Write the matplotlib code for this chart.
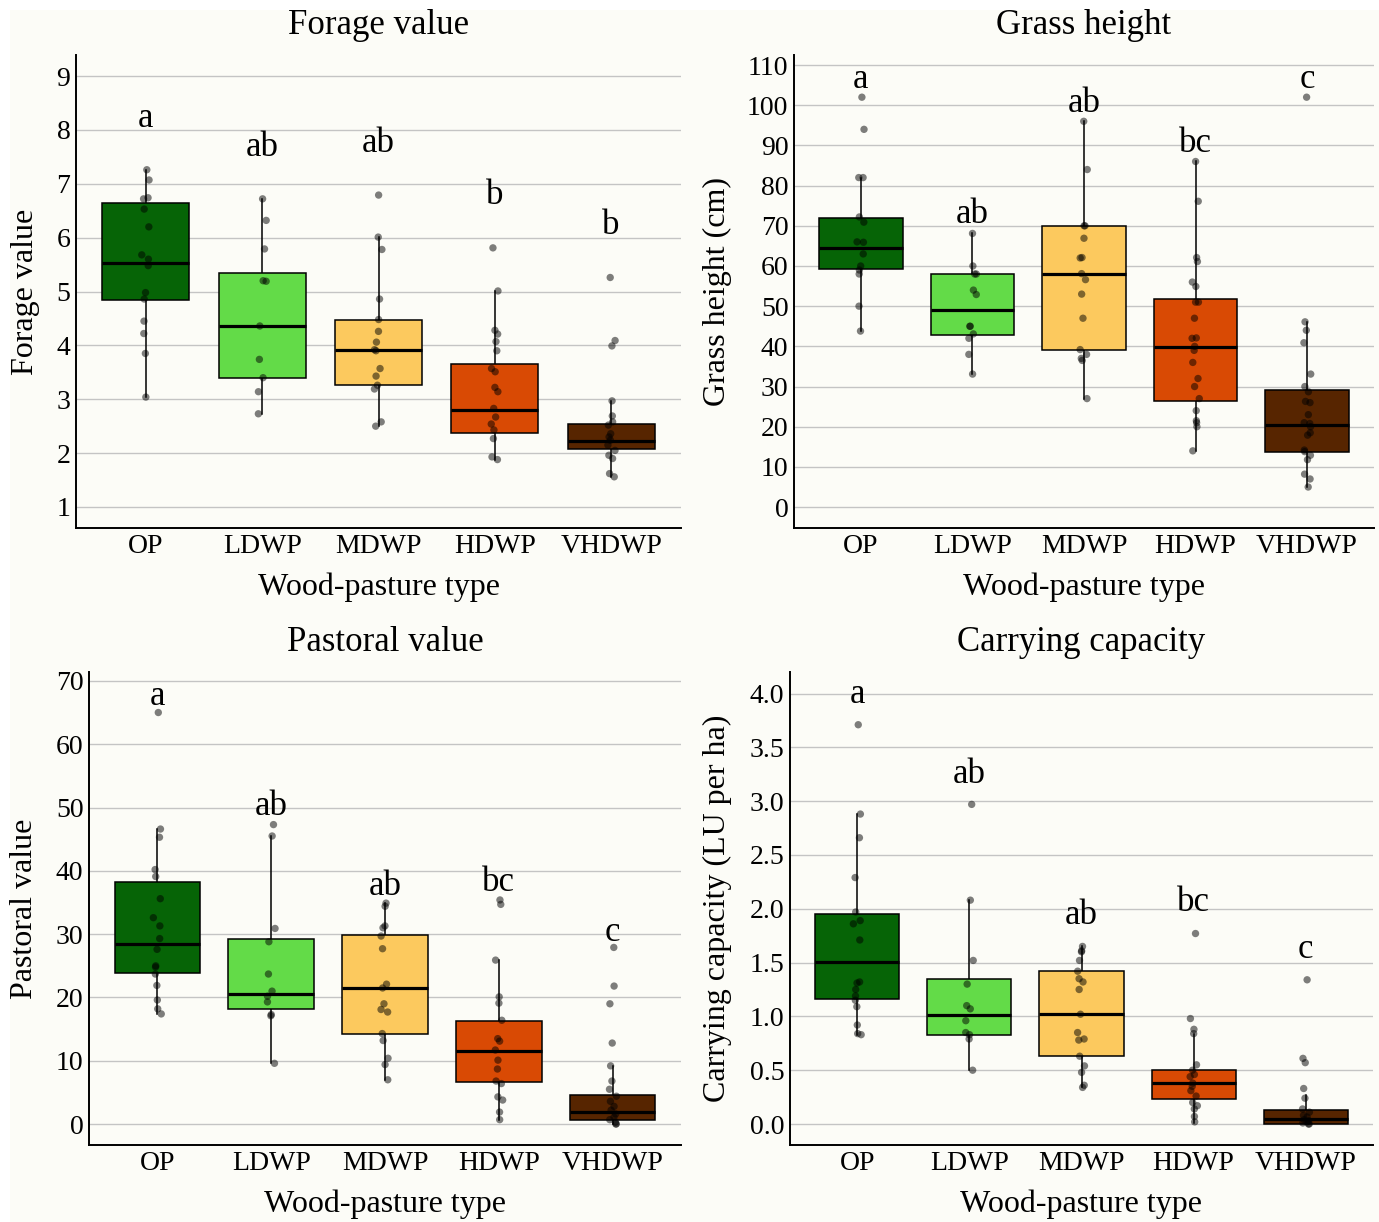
import numpy as np
import matplotlib
matplotlib.use("Agg")
import matplotlib.pyplot as plt
from matplotlib.patches import Rectangle

plt.rcParams["font.family"] = ["Liberation Serif", "DejaVu Serif"]

TYPES = ["OP", "LDWP", "MDWP", "HDWP", "VHDWP"]
COLORS = ["#066406", "#63DB48", "#FCC95E", "#D94A04", "#572500"]

# ---- Forage value ----
forage_pts = [
    [7.26, 7.07, 6.74, 6.72, 6.53, 6.20, 5.68, 5.60, 5.48, 4.98, 4.86, 4.45, 4.22, 3.85, 3.04],
    [6.72, 6.32, 5.79, 5.20, 5.19, 4.36, 3.74, 3.40, 3.14, 2.73],
    [6.79, 6.01, 5.78, 4.86, 4.48, 4.26, 4.06, 3.92, 3.90, 3.57, 3.43, 3.26, 3.19, 2.58, 2.50],
    [5.81, 5.01, 4.28, 4.21, 4.07, 3.90, 3.57, 3.51, 3.22, 3.14, 2.83, 2.67, 2.54, 2.43, 2.27,
     1.93, 1.88],
    [5.26, 4.09, 3.99, 2.97, 2.69, 2.58, 2.52, 2.36, 2.30, 2.24, 2.15, 2.05, 1.96, 1.90, 1.62,
     1.56],
]
forage_q1 = [4.85, 3.39, 3.27, 2.38, 2.07]
forage_med = [5.52, 4.36, 3.92, 2.80, 2.23]
forage_q3 = [6.64, 5.35, 4.48, 3.65, 2.54]
forage_wlo = [3.04, 2.73, 2.50, 1.88, 1.56]
forage_whi = [7.26, 6.72, 6.01, 5.01, 2.97]
forage_letters = ["a", "ab", "ab", "b", "b"]
forage_letter_y = [8.22, 7.68, 7.75, 6.79, 6.23]

# ---- Grass height ----
grass_pts = [
    [102.0, 94.0, 82.0, 82.0, 72.2, 70.9, 66.0, 65.9, 63.0, 60.0, 59.0, 58.0, 50.0, 43.8],
    [68.1, 60.0, 58.0, 58.0, 54.0, 52.9, 45.0, 45.0, 43.1, 42.0, 38.0, 33.1],
    [96.0, 84.0, 70.0, 70.0, 66.9, 62.1, 62.0, 58.1, 56.6, 53.0, 47.0, 39.2, 38.0, 37.0, 36.5,
     27.0],
    [86.0, 76.1, 62.1, 61.1, 56.0, 54.9, 51.0, 51.0, 47.0, 42.1, 42.0, 40.0, 39.0, 36.0, 32.0,
     30.0, 27.0, 24.0, 21.5, 21.0, 20.0, 14.0],
    [102.0, 46.1, 44.0, 40.9, 33.1, 30.0, 28.7, 26.3, 26.0, 23.0, 21.0, 20.8, 20.0, 18.5, 17.9,
     14.2, 13.8, 12.9, 11.8, 8.2, 7.0, 5.0],
]
grass_q1 = [59.2, 42.8, 39.0, 26.3, 13.8]
grass_med = [64.5, 49.0, 58.1, 39.9, 20.5]
grass_q3 = [72.0, 58.0, 70.0, 51.9, 29.1]
grass_wlo = [43.8, 33.1, 27.0, 14.0, 5.0]
grass_whi = [82.0, 68.1, 96.0, 86.0, 46.1]
grass_letters = ["a", "ab", "ab", "bc", "c"]
grass_letter_y = [106.5, 72.7, 100.5, 90.6, 106.5]

# ---- Pastoral value ----
pastoral_pts = [
    [65.0, 46.6, 45.3, 40.2, 39.1, 35.6, 32.6, 31.3, 29.3, 27.6, 25.0, 24.8, 23.7, 21.9, 19.6,
     18.2, 17.4],
    [47.3, 45.5, 30.9, 28.8, 23.7, 21.0, 20.2, 19.3, 17.3, 17.1, 9.6],
    [34.9, 34.4, 31.3, 31.0, 29.7, 27.7, 22.1, 21.5, 19.0, 18.1, 17.7, 14.3, 13.2, 10.4, 9.4,
     7.0],
    [35.4, 34.7, 25.9, 20.1, 19.1, 16.4, 13.5, 13.1, 11.7, 10.1, 8.7, 6.8, 6.4, 4.3, 3.8, 1.9,
     0.7],
    [27.9, 21.8, 19.0, 12.8, 9.2, 6.8, 5.5, 4.4, 3.6, 2.8, 2.2, 1.6, 1.1, 0.7, 0.3, 0.05, 0.0],
]
pastoral_q1 = [23.9, 18.1, 14.2, 6.7, 0.7]
pastoral_med = [28.4, 20.6, 21.5, 11.5, 1.9]
pastoral_q3 = [38.2, 29.3, 29.8, 16.3, 4.6]
pastoral_wlo = [17.4, 9.6, 7.0, 0.7, 0.0]
pastoral_whi = [46.6, 45.5, 34.9, 25.9, 9.2]
pastoral_letters = ["a", "ab", "ab", "bc", "c"]
pastoral_letter_y = [67.6, 50.1, 37.6, 38.2, 30.3]

# ---- Carrying capacity ----
carry_pts = [
    [3.71, 2.88, 2.66, 2.29, 1.97, 1.89, 1.86, 1.71, 1.32, 1.31, 1.25, 1.19, 1.15, 1.09, 0.92,
     0.84, 0.83],
    [2.97, 2.08, 1.52, 1.30, 1.10, 1.07, 0.96, 0.85, 0.83, 0.79, 0.50],
    [1.65, 1.61, 1.60, 1.52, 1.42, 1.35, 1.32, 1.25, 1.02, 0.85, 0.79, 0.78, 0.63, 0.54, 0.48,
     0.36, 0.34],
    [1.77, 0.98, 0.88, 0.84, 0.55, 0.50, 0.46, 0.44, 0.38, 0.35, 0.31, 0.26, 0.20, 0.17, 0.14,
     0.07, 0.02],
    [1.34, 0.61, 0.57, 0.33, 0.24, 0.14, 0.11, 0.08, 0.065, 0.04, 0.03, 0.02, 0.01, 0.0, 0.0],
]
carry_q1 = [1.165, 0.83, 0.63, 0.23, 0.0]
carry_med = [1.51, 1.015, 1.02, 0.38, 0.05]
carry_q3 = [1.95, 1.35, 1.42, 0.50, 0.13]
carry_wlo = [0.83, 0.50, 0.34, 0.01, 0.0]
carry_whi = [2.88, 2.08, 1.65, 0.84, 0.27]
carry_letters = ["a", "ab", "ab", "bc", "c"]
carry_letter_y = [3.99, 3.25, 1.94, 2.06, 1.62]

BG = "#FCFCF7"
W, H = 1379, 1222


def panel(fig, rect, title, ylabel, pts, q1, med, q3, wlo, whi, letters, letter_y,
          ylim, yticks, yfmt, ylab_x):
    ax = fig.add_axes(rect)
    ax.set_facecolor(BG)
    stats = [dict(q1=a, med=m, q3=b, whislo=lo, whishi=hi, fliers=[])
             for a, m, b, lo, hi in zip(q1, med, q3, wlo, whi)]
    bp = ax.bxp(stats, positions=range(5), widths=0.75, patch_artist=True,
                showcaps=False, showfliers=False,
                boxprops=dict(edgecolor="black", linewidth=1.1),
                whiskerprops=dict(color="black", linewidth=1.1),
                medianprops=dict(color="black", linewidth=2.3))
    for patch, c in zip(bp["boxes"], COLORS):
        patch.set_facecolor(c)
        patch.set_zorder(2)
    for w in bp["whiskers"]:
        w.set_zorder(1.9)
    for m in bp["medians"]:
        m.set_zorder(2.1)

    rng = np.random.default_rng(7)
    for i, vals in enumerate(pts):
        x = i + rng.uniform(-0.035, 0.035, len(vals))
        ax.scatter(x, vals, s=28, color="black", alpha=0.5, edgecolors="none", zorder=3)

    for i, (lab, y) in enumerate(zip(letters, letter_y)):
        ax.text(i, y, lab, ha="center", va="center", fontsize=25)

    ax.set_xlim(-0.6, 4.6)
    ax.set_ylim(*ylim)
    ax.set_yticks(yticks)
    ax.set_yticklabels([yfmt.format(t) for t in yticks])
    ax.set_xticks(range(5))
    ax.set_xticklabels(TYPES)
    ax.tick_params(axis="both", length=0, labelsize=20, colors="black")
    ax.tick_params(axis="x", pad=4)
    ax.tick_params(axis="y", pad=4)
    ax.grid(axis="y", color="#C4C4C4", linewidth=1.0, zorder=0)
    ax.set_axisbelow(True)
    for s in ["top", "right"]:
        ax.spines[s].set_visible(False)
    for s in ["left", "bottom"]:
        ax.spines[s].set_color("black")
        ax.spines[s].set_linewidth(1.4)

    ax.set_title(title, fontsize=25, pad=15)
    ax.set_xlabel("Wood-pasture type", fontsize=23, va="center")
    ax.xaxis.set_label_coords(0.5, -59 / (rect[3] * H))
    ax.set_ylabel(ylabel, fontsize=23, va="center")
    ax.yaxis.set_label_coords(ylab_x, 0.5)
    return ax


fig = plt.figure(figsize=(W / 100, H / 100), dpi=100, facecolor="white")
fig.patches.append(Rectangle((10 / W, 0), 1 - 10 / W, 1 - 10 / H, transform=fig.transFigure,
                             facecolor=BG, edgecolor="none", zorder=-10))


def frac(l, r, t, b):
    return [l / W, 1 - b / H, (r - l) / W, (b - t) / H]


panel(fig, frac(76, 681, 55, 528), "Forage value", "Forage value",
      forage_pts, forage_q1, forage_med, forage_q3, forage_wlo, forage_whi,
      forage_letters, forage_letter_y, (0.61, 9.39), list(range(1, 10)), "{:d}",
      (25 - 76) / 605)
panel(fig, frac(794, 1374, 55, 528), "Grass height", "Grass height (cm)",
      grass_pts, grass_q1, grass_med, grass_q3, grass_wlo, grass_whi,
      grass_letters, grass_letter_y, (-5.2, 112.5), list(range(0, 111, 10)), "{:d}",
      (717 - 794) / 580)
panel(fig, frac(89, 681, 672, 1145), "Pastoral value", "Pastoral value",
      pastoral_pts, pastoral_q1, pastoral_med, pastoral_q3, pastoral_wlo, pastoral_whi,
      pastoral_letters, pastoral_letter_y, (-3.3, 71.4), list(range(0, 71, 10)), "{:d}",
      (25 - 89) / 592)
panel(fig, frac(790, 1373, 672, 1145), "Carrying capacity", "Carrying capacity (LU per ha)",
      carry_pts, carry_q1, carry_med, carry_q3, carry_wlo, carry_whi,
      carry_letters, carry_letter_y, (-0.195, 4.2), list(np.arange(0, 4.01, 0.5)), "{:.1f}",
      (717 - 790) / 583)

fig.savefig("out.png", dpi=100, facecolor=fig.get_facecolor())
